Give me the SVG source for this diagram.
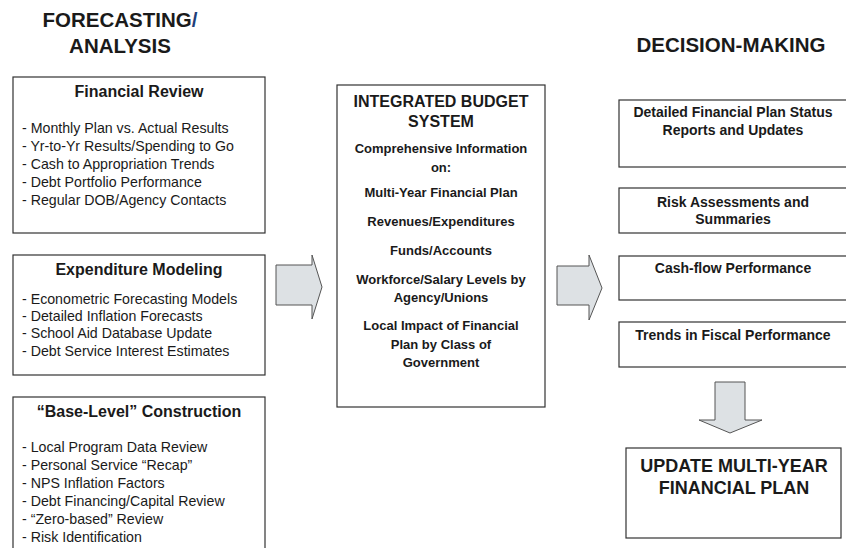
<svg xmlns="http://www.w3.org/2000/svg" width="846" height="548" viewBox="0 0 846 548">
<style>
text{font-family:"Liberation Sans",Arial,sans-serif;fill:#1a1a1a}
.h{font-size:20.5px;font-weight:bold;text-anchor:middle}
.t{font-size:16px;font-weight:bold;text-anchor:middle}
.c{font-size:13px;font-weight:bold;text-anchor:middle}
.r{font-size:14px;font-weight:bold;text-anchor:middle}
.l{font-size:14.2px}
.box{fill:#fff;stroke:#333;stroke-width:1.2}
.arr{fill:#dde1e4;stroke:#555;stroke-width:1}
</style>
<rect width="846" height="548" fill="#fff"/>
<g id="headings">
<text class="h" x="120" y="27">FORECASTING<tspan style="fill:#1f3f7a">/</tspan></text>
<text class="h" x="120" y="53">ANALYSIS</text>
<text class="h" x="731" y="52">DECISION-MAKING</text>
</g>
<g id="financial-review">
<rect class="box" x="13" y="77" width="252" height="156"/>
<text class="t" x="139" y="97">Financial Review</text>
<text class="l" x="22" y="133">- Monthly Plan vs. Actual Results</text>
<text class="l" x="22" y="151">- Yr-to-Yr Results/Spending to Go</text>
<text class="l" x="22" y="169">- Cash to Appropriation Trends</text>
<text class="l" x="22" y="187">- Debt Portfolio Performance</text>
<text class="l" x="22" y="205">- Regular DOB/Agency Contacts</text>
</g>
<g id="expenditure-modeling">
<rect class="box" x="13" y="255" width="252" height="120"/>
<text class="t" x="139" y="275">Expenditure Modeling</text>
<text class="l" x="22" y="304">- Econometric Forecasting Models</text>
<text class="l" x="22" y="321">- Detailed Inflation Forecasts</text>
<text class="l" x="22" y="338">- School Aid Database Update</text>
<text class="l" x="22" y="356">- Debt Service Interest Estimates</text>
</g>
<g id="base-level">
<rect class="box" x="13" y="397" width="252" height="155"/>
<text class="t" x="139" y="417">“Base-Level” Construction</text>
<text class="l" x="22" y="452">- Local Program Data Review</text>
<text class="l" x="22" y="470">- Personal Service “Recap”</text>
<text class="l" x="22" y="488">- NPS Inflation Factors</text>
<text class="l" x="22" y="506">- Debt Financing/Capital Review</text>
<text class="l" x="22" y="524">- “Zero-based” Review</text>
<text class="l" x="22" y="542">- Risk Identification</text>
</g>
<g id="integrated-budget-system">
<rect class="box" x="337" y="85" width="208" height="322"/>
<text class="t" x="441" y="107">INTEGRATED BUDGET</text>
<text class="t" x="441" y="127">SYSTEM</text>
<text class="c" x="441" y="153">Comprehensive Information</text>
<text class="c" x="441" y="172">on:</text>
<text class="c" x="441" y="197">Multi-Year Financial Plan</text>
<text class="c" x="441" y="226">Revenues/Expenditures</text>
<text class="c" x="441" y="255">Funds/Accounts</text>
<text class="c" x="441" y="284">Workforce/Salary Levels by</text>
<text class="c" x="441" y="302">Agency/Unions</text>
<text class="c" x="441" y="330">Local Impact of Financial</text>
<text class="c" x="441" y="349">Plan by Class of</text>
<text class="c" x="441" y="367">Government</text>
</g>
<g id="status-reports">
<rect class="box" x="619" y="100" width="230" height="67"/>
<text class="r" x="733" y="117">Detailed Financial Plan Status</text>
<text class="r" x="733" y="135">Reports and Updates</text>
</g>
<g id="risk-assessments">
<rect class="box" x="619" y="188" width="230" height="45"/>
<text class="r" x="733" y="207">Risk Assessments and</text>
<text class="r" x="733" y="224">Summaries</text>
</g>
<g id="cash-flow">
<rect class="box" x="619" y="256" width="230" height="44"/>
<text class="r" x="733" y="273">Cash-flow Performance</text>
</g>
<g id="trends">
<rect class="box" x="619" y="322" width="230" height="45"/>
<text class="r" x="733" y="340">Trends in Fiscal Performance</text>
</g>
<g id="update-plan">
<rect class="box" x="626" y="448" width="215" height="90"/>
<text class="h" x="734" y="472" style="font-size:18px">UPDATE MULTI-YEAR</text>
<text class="h" x="734" y="494" style="font-size:18px">FINANCIAL PLAN</text>
</g>
<g id="connectors">
<path class="arr" d="M276,265 H312 V255 L322,287 L312,319 V305 H276 Z"/>
<path class="arr" d="M557,266 H589 V255 L602,288 L589,320 V305 H557 Z"/>
<path class="arr" d="M715,382 H745 V420 H762 L730,433 L699,420 H715 Z"/>
</g>
</svg>
